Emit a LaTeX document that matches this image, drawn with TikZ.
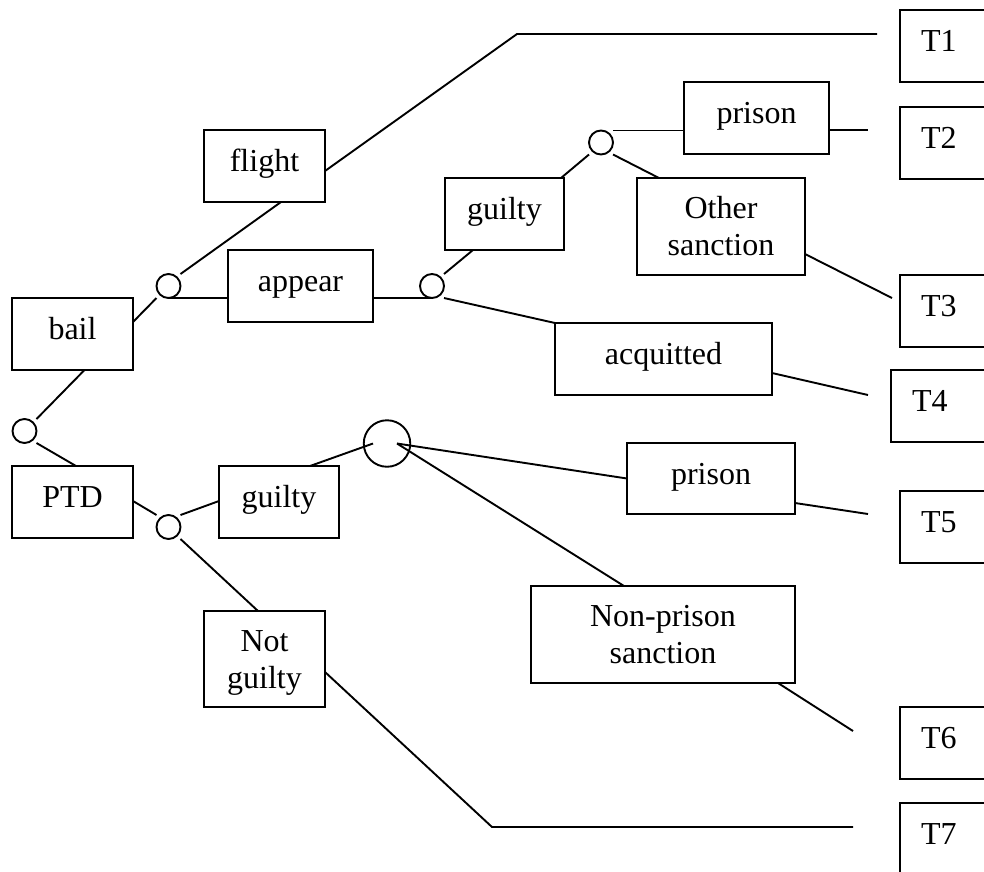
\documentclass[tikz,border=0pt]{standalone}
\usepackage{fontspec}
\setmainfont{Liberation Serif}
\usetikzlibrary{calc}
\begin{document}
\begin{tikzpicture}[x=1pt,y=-1pt,
  font=\fontsize{32pt}{37pt}\selectfont,
  line width=1.9pt,
  box/.style={draw, rectangle, anchor=north west, inner sep=0pt, outer sep=0pt, text height=41pt, text depth=31pt},
  twoline/.style={text height=40pt, text depth=57pt},
  tbox/.style={rectangle, anchor=north west, inner xsep=21pt, inner ysep=0pt, outer sep=0pt, text width=120pt, align=left, text height=41pt, text depth=31pt},
  topen/.style={draw},
  dot/.style={circle, draw, inner sep=0pt, outer sep=0pt, minimum size=24pt}]
\useasboundingbox (0,0) rectangle (984,871);

% decision circles
\node[dot] (c0) at (24.5,431) {};
\node[dot] (c1) at (168.5,286) {};
\node[dot] (c2) at (432,286) {};
\node[dot] (c3) at (601,142.5) {};
\node[dot] (c4) at (168.5,527) {};
\node[dot, minimum size=46.5pt] (cb) at (387,443.5) {};

% boxes
\node[box, minimum width=121pt] (bail) at (12,298) {bail};
\node[box, minimum width=121pt] (flight) at (204,130) {flight};
\node[box, minimum width=145pt] (appear) at (228,250) {appear};
\node[box, minimum width=119pt] (guilty1) at (445,178) {guilty};
\node[box, minimum width=145pt] (prison1) at (684,82) {prison};
\node[box, twoline, minimum width=168pt] (other) at (637,178) {\begin{tabular}[t]{@{}c@{}}Other\\sanction\end{tabular}};
\node[box, minimum width=217pt] (acquitted) at (555,323) {acquitted};
\node[box, minimum width=121pt] (PTD) at (12,466) {PTD};
\node[box, minimum width=120pt] (guilty2) at (219,466) {guilty};
\node[box, twoline, text depth=56pt, minimum width=121pt] (notguilty) at (204,611) {\begin{tabular}[t]{@{}c@{}}Not\\guilty\end{tabular}};
\node[box, text depth=30pt, minimum width=168pt] (prison2) at (627,443) {prison};
\node[box, twoline, minimum width=264pt] (nonprison) at (531,586) {\begin{tabular}[t]{@{}c@{}}Non-prison\\sanction\end{tabular}};

% terminal boxes (they run past the right edge)
\node[tbox] (T1) at (900,10) {T1};
\node[tbox] (T2) at (900,107) {T2};
\node[tbox] (T3) at (900,275) {T3};
\node[tbox] (T4) at (891,370) {T4};
\node[tbox] (T5) at (900,491) {T5};
\node[tbox] (T6) at (900,707) {T6};
\node[tbox] (T7) at (900,803) {T7};
\foreach \t in {T1,T2,T3,T4,T5,T6,T7}
  \draw[topen] (\t.north east) -- (\t.north west) -- (\t.south west) -- (\t.south east);

% free ends and bends
\coordinate (k1) at (517,34);
\coordinate (e1) at (877,34);
\coordinate (e2) at (868,130);
\coordinate (e3) at (892,298);
\coordinate (e4) at (868,395);
\coordinate (e5) at (868,514);
\coordinate (e6) at (853,731);
\coordinate (k7) at (492,827);
\coordinate (e7) at (853,827);

% connectors
\draw ([xshift=12pt]bail.south) -- (c0.north -| c0.east);
\draw ([yshift=12pt]bail.east) -- (c1.south -| c1.west);
\draw (c1.north -| c1.east) -- ([xshift=16.5pt]flight.south);
\draw ([yshift=-5pt]flight.east) -- (k1) -- (e1);
\draw (c1.south) -- (appear.west |- c1.south);
\draw (appear.east |- c2.south) -- (c2.south);
\draw (c2.north -| c2.east) -- ([xshift=28pt]guilty1.south west);
\draw (c2.south -| c2.east) -- (acquitted.north west);
\draw ([xshift=-3pt]guilty1.north east) -- (c3.south -| c3.west);
\draw (c3.north -| c3.east) -- (prison1.west |- c3.north);
\draw ([yshift=-12pt]prison1.east) -- (e2);
\draw (c3.south -| c3.east) -- ([xshift=22pt]other.north west);
\draw ([yshift=-27.5pt]other.east) -- (e3);
\draw ([yshift=-14pt]acquitted.east) -- (e4);
\draw (c0.south -| c0.east) -- ([xshift=3.5pt]PTD.north);
\draw ([yshift=1pt]PTD.east) -- (c4.north -| c4.west);
\draw (c4.north -| c4.east) -- ([yshift=1pt]guilty2.west);
\draw ([xshift=31pt]guilty2.north) -- ([xshift=-14pt]cb.center);
\draw ([xshift=10pt]cb.center) -- (prison2.west);
\draw ([xshift=10pt]cb.center) -- ([xshift=-39pt]nonprison.north);
\draw ([yshift=-24.5pt]prison2.east) -- (e5);
\draw ([xshift=-17pt]nonprison.south east) -- (e6);
\draw (c4.south -| c4.east) -- ([xshift=-6.5pt]notguilty.north);
\draw ([yshift=-13pt]notguilty.east) -- (k7) -- (e7);
\end{tikzpicture}
\end{document}
